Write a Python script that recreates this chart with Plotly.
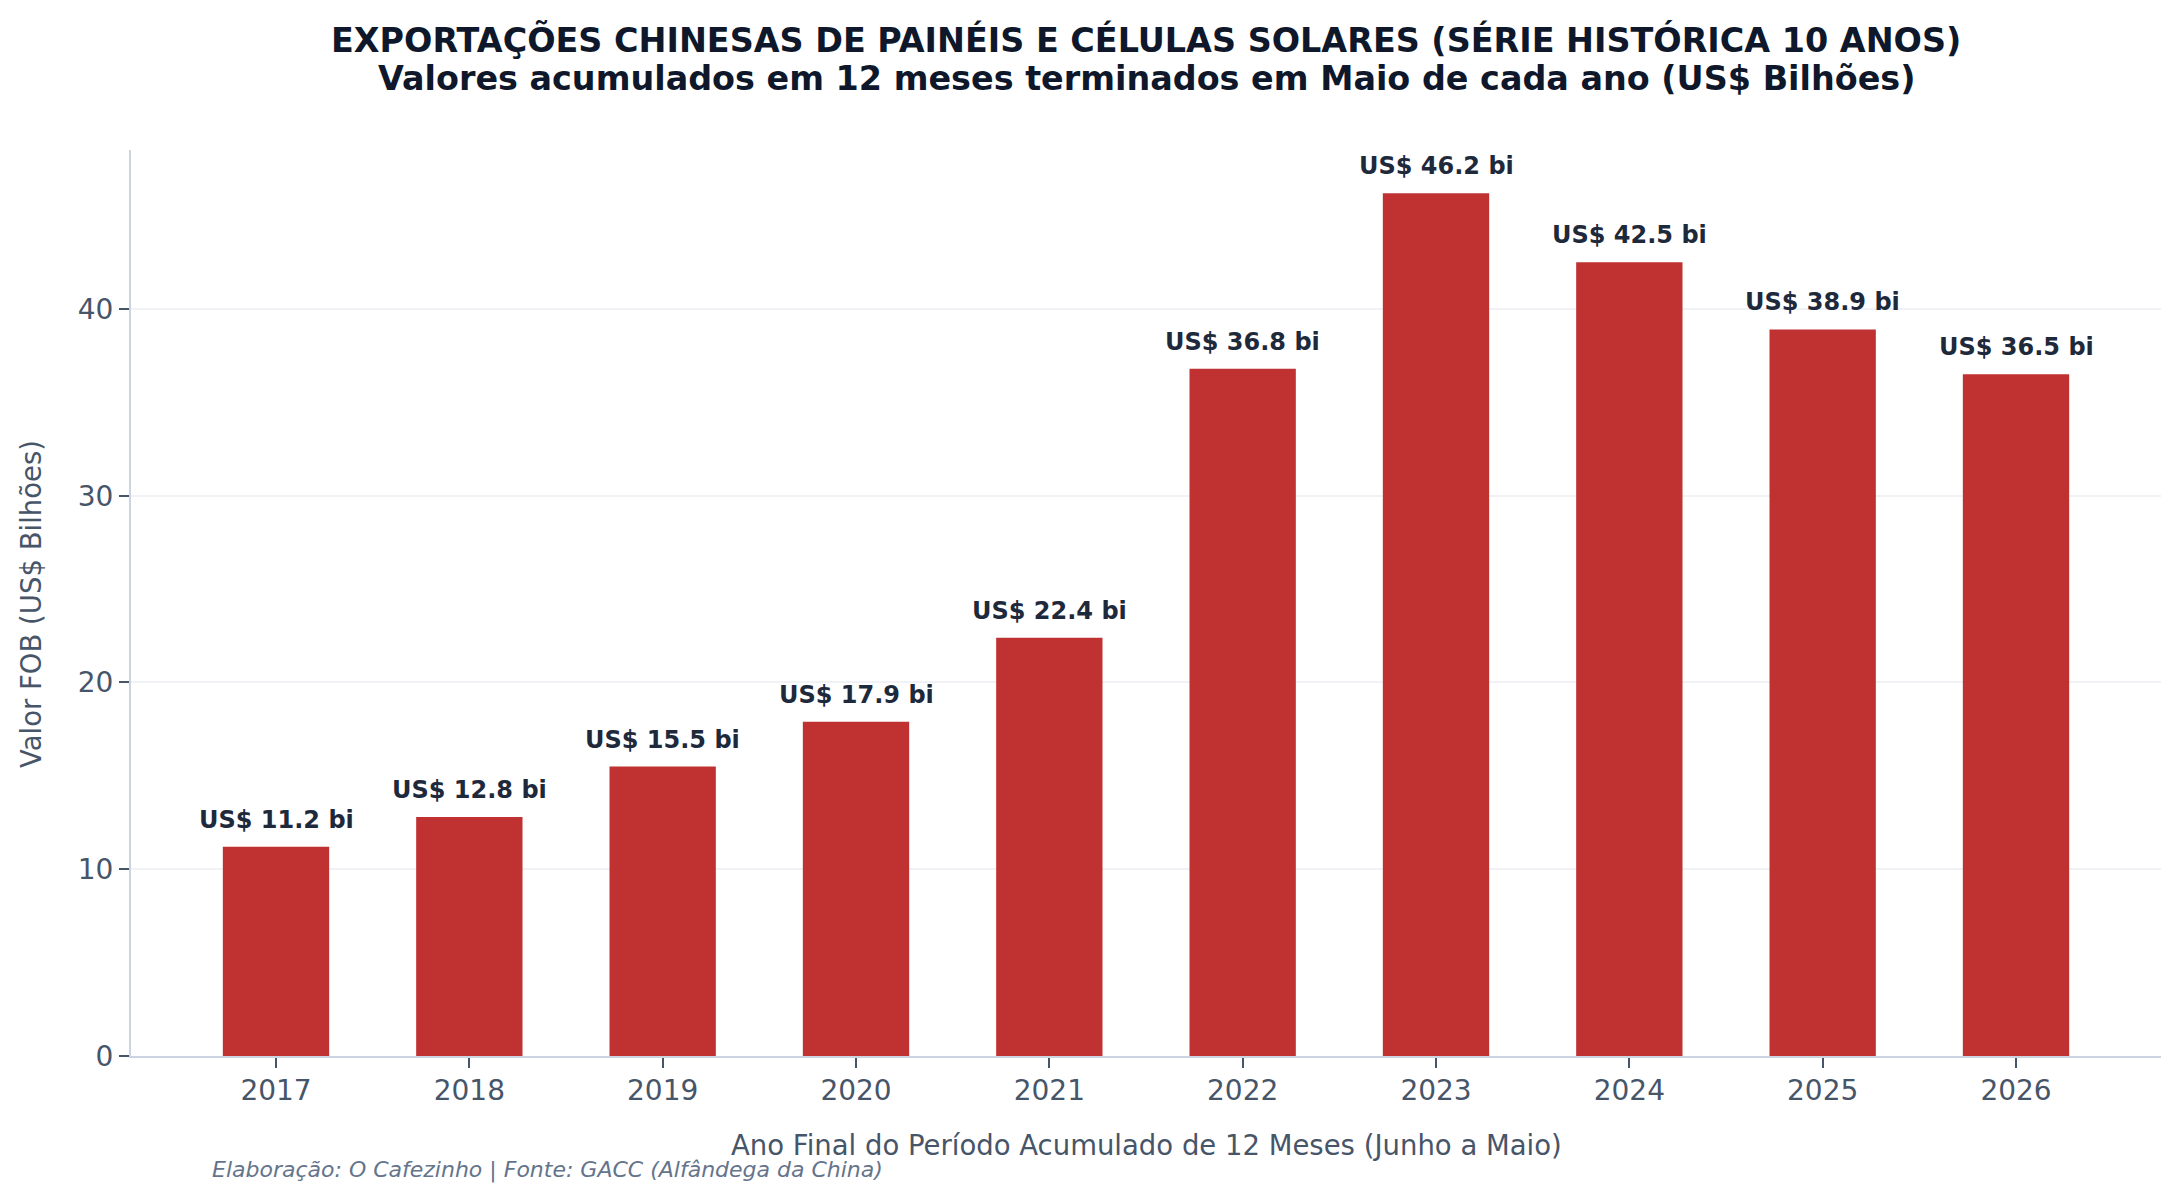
import plotly.graph_objects as go

anos = ["2017", "2018", "2019", "2020", "2021", "2022", "2023", "2024", "2025", "2026"]
valores = [11.2, 12.8, 15.5, 17.9, 22.4, 36.8, 46.2, 42.5, 38.9, 36.5]
rotulos = [f"US$ {v:.1f} bi" for v in valores]
yticks = [0, 10, 20, 30, 40]

titulo1 = "EXPORTAÇÕES CHINESAS DE PAINÉIS E CÉLULAS SOLARES (SÉRIE HISTÓRICA 10 ANOS)"
titulo2 = "Valores acumulados em 12 meses terminados em Maio de cada ano (US$ Bilhões)"
xtitulo = "Ano Final do Período Acumulado de 12 Meses (Junho a Maio)"
ytitulo = "Valor FOB (US$ Bilhões)"
fonte = "Elaboração: O Cafezinho | Fonte: GACC (Alfândega da China)"

FONT = "DejaVu Sans"
W, H = 2179, 1203
L, R, T, B = 131, 18, 150, 147
pw, ph = W - L - R, H - T - B


def px(x):
    return (x - L) / pw


def py(y):
    return (H - B - y) / ph


xidx = list(range(len(anos)))

fig = go.Figure()
fig.add_trace(go.Bar(
    x=xidx, y=valores, width=0.55,
    marker=dict(color="#c03232", line=dict(width=0)),
    hoverinfo="skip",
))

for i, (v, t) in enumerate(zip(valores, rotulos)):
    fig.add_annotation(
        x=i, y=v, xref="x", yref="y", text=f"<b>{t}</b>", showarrow=False,
        yanchor="bottom", yshift=11,
        font=dict(family=FONT, size=24, color="#1e293b"),
    )

for txt, ypix in [(titulo1, 40), (titulo2, 79)]:
    fig.add_annotation(
        x=0.5, y=py(ypix), xref="paper", yref="paper", xanchor="center", yanchor="middle",
        text=f"<b>{txt}</b>", showarrow=False,
        font=dict(family=FONT, size=33.4, color="#0f172a"),
    )

fig.add_annotation(
    x=0.5, y=py(1145), xref="paper", yref="paper", xanchor="center", yanchor="middle",
    text=xtitulo, showarrow=False,
    font=dict(family=FONT, size=27.5, color="#475569"),
)
fig.add_annotation(
    x=px(31), y=py(604), xref="paper", yref="paper", xanchor="center", yanchor="middle",
    text=ytitulo, showarrow=False, textangle=-90,
    font=dict(family=FONT, size=27.5, color="#475569"),
)
fig.add_annotation(
    x=px(210), y=py(1170), xref="paper", yref="paper", xanchor="left", yanchor="middle",
    text=f"<i>{fonte}</i>", showarrow=False,
    font=dict(family=FONT, size=22, color="#64748b"),
)

fig.update_layout(
    width=W, height=H,
    margin=dict(l=L, r=R, t=T, b=B),
    paper_bgcolor="white", plot_bgcolor="white",
    showlegend=False,
    font=dict(family=FONT, color="#475569"),
    xaxis=dict(
        range=[-0.75, 9.75], tickvals=xidx, ticktext=anos,
        showline=True, linecolor="#cbd5e1", linewidth=2,
        ticks="outside", ticklen=10, tickcolor="#475569", tickwidth=1.5,
        ticklabelstandoff=-2,
        tickfont=dict(family=FONT, size=28, color="#475569"),
        showgrid=False, zeroline=False,
    ),
    yaxis=dict(
        range=[0, 48.51], tickvals=yticks,
        showline=True, linecolor="#cbd5e1", linewidth=2,
        ticks="outside", ticklen=10, tickcolor="#475569", tickwidth=1.5,
        tickfont=dict(family=FONT, size=28, color="#475569"),
        showgrid=True, gridcolor="#f1f2f6", gridwidth=1.5, zeroline=False,
    ),
)

fig.write_html("out.html")
